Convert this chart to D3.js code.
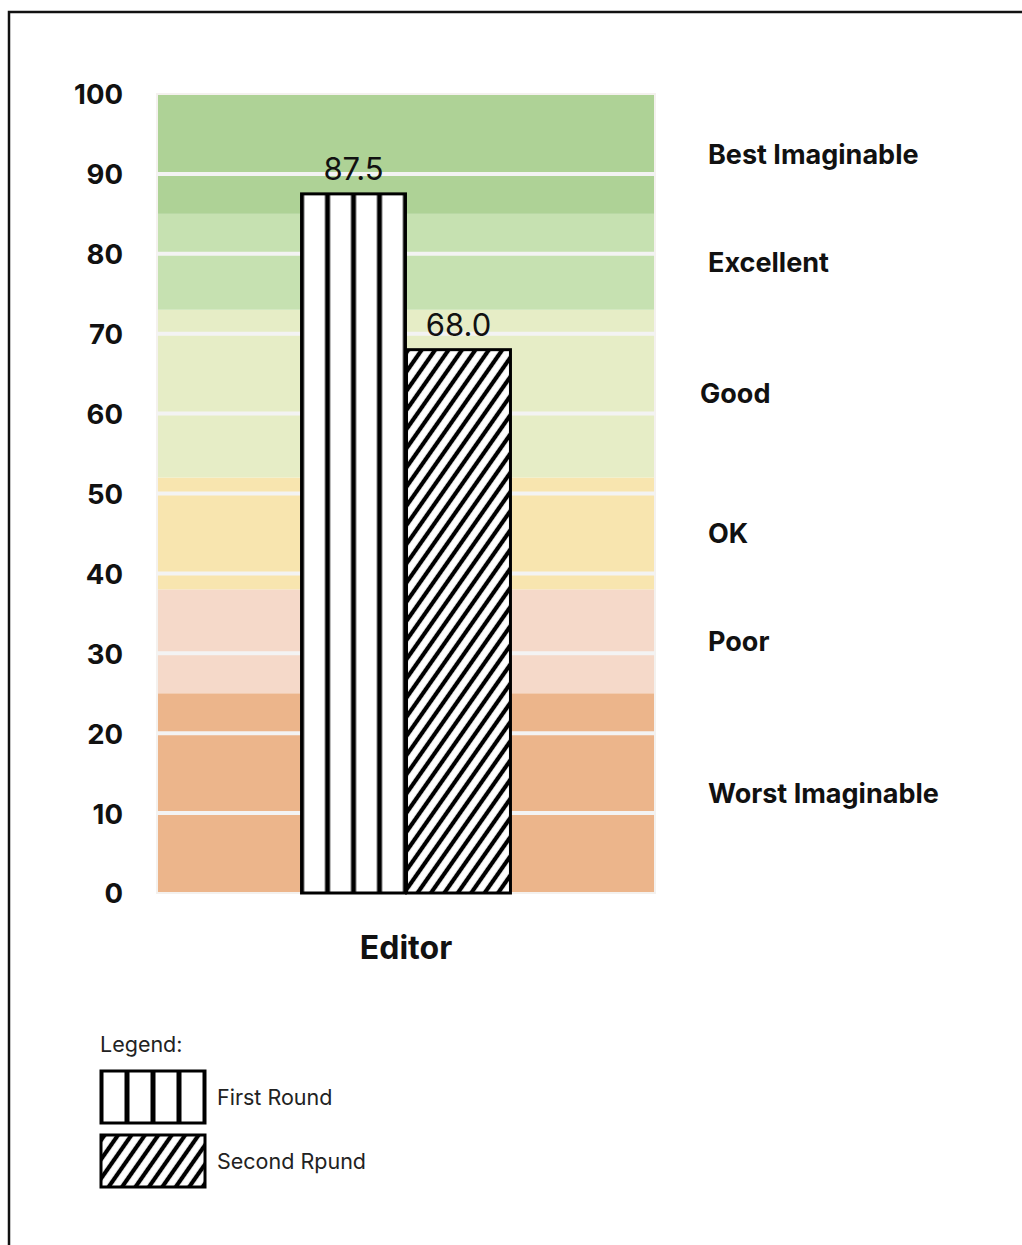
<!DOCTYPE html>
<html lang="en">
<head>
    <meta charset="UTF-8">
    <title>Editor rating</title>
    <script src="https://d3js.org/d3.v7.min.js"></script>
    <style>
        body { margin: 0; background: #fff; }
        svg { display: block; font-family: Inter, "Noto Sans", sans-serif; }
        .tick-label { font-size: 27.5px; font-weight: 700; fill: #111; }
        .zone-label { font-size: 27px; font-weight: 700; fill: #111; }
        .value-label { font-size: 31px; fill: #111; }
        .cat-label { font-size: 32px; font-weight: 700; fill: #111; }
        .legend-text { font-size: 21.5px; fill: #222; }
    </style>
</head>
<body>
<svg width="1022" height="1245"></svg>
<script>
    // data
    const categories = ["Editor"];
    const series = ["First Round", "Second Rpund"];
    const values = [87.5, 68.0];
    const zoneLimits = [0, 25, 38, 52, 73, 85, 100];
    const zoneNames = ["Worst Imaginable", "Poor", "OK", "Good", "Excellent", "Best Imaginable"];
    const yTicks = [0, 10, 20, 30, 40, 50, 60, 70, 80, 90, 100];

    const zoneColors = ["#ecb58b", "#f5d9c9", "#f8e5af", "#e6edc6", "#c6e1b1", "#aed296"];
    const fills = ["url(#vstripes)", "url(#dstripes)"];

    const width = 1022, height = 1245;
    const plot = { left: 157, right: 655, top: 94, bottom: 893 };

    const svg = d3.select("svg");

    // page frame
    svg.append("rect")
        .attr("x", 9).attr("y", 12)
        .attr("width", width).attr("height", height)
        .attr("fill", "none").attr("stroke", "#111").attr("stroke-width", 2.5);

    // patterns
    const defs = svg.append("defs");
    const vp = defs.append("pattern")
        .attr("id", "vstripes")
        .attr("patternUnits", "objectBoundingBox")
        .attr("width", 0.25).attr("height", 1);
    vp.append("rect").attr("width", 200).attr("height", 2000).attr("fill", "#fff");
    vp.selectAll("line")
        .data([0, 26])
        .join("line")
        .attr("x1", d => d).attr("x2", d => d).attr("y1", 0).attr("y2", 2000)
        .attr("stroke", "#000").attr("stroke-width", 5);

    // diagonal hatch, steeper than 45 degrees
    const dp = defs.append("pattern")
        .attr("id", "dstripes")
        .attr("patternUnits", "userSpaceOnUse")
        .attr("width", 11).attr("height", 20)
        .attr("patternTransform", "rotate(35)");
    dp.append("rect").attr("width", 11).attr("height", 20).attr("fill", "#fff");
    dp.append("line")
        .attr("x1", 3).attr("x2", 3).attr("y1", -1).attr("y2", 21)
        .attr("stroke", "#000").attr("stroke-width", 4.2);

    // scales
    const y = d3.scaleLinear().domain([0, 100]).range([plot.bottom, plot.top]);
    const x0 = d3.scaleBand().domain(categories)
        .range([plot.left, plot.right])
        .paddingInner(0).paddingOuter(0.68);
    const x1 = d3.scaleBand().domain(series)
        .range([0, x0.bandwidth()])
        .padding(0.01);

    // rating zones
    const zones = zoneNames.map((name, i) => ({ name, lo: zoneLimits[i], hi: zoneLimits[i + 1], color: zoneColors[i] }));
    svg.append("g").selectAll("rect")
        .data(zones)
        .join("rect")
        .attr("x", plot.left)
        .attr("width", plot.right - plot.left)
        .attr("y", d => y(d.hi))
        .attr("height", d => y(d.lo) - y(d.hi))
        .attr("fill", d => d.color);

    svg.append("rect")
        .attr("x", plot.left).attr("y", plot.top)
        .attr("width", plot.right - plot.left).attr("height", plot.bottom - plot.top)
        .attr("fill", "none").attr("stroke", "#f4f1ee").attr("stroke-width", 2);

    // grid
    svg.append("g").selectAll("line")
        .data(yTicks.filter(t => t > 0 && t < 100))
        .join("line")
        .attr("x1", plot.left).attr("x2", plot.right)
        .attr("y1", d => y(d)).attr("y2", d => y(d))
        .attr("stroke", "#f3f3f3").attr("stroke-width", 4);

    // y axis labels
    const yAxis = svg.append("g")
        .attr("transform", `translate(${plot.left - 34},0)`)
        .call(d3.axisLeft(y).tickValues(yTicks).tickSize(0).tickPadding(0));
    yAxis.select(".domain").remove();
    yAxis.selectAll("text")
        .attr("class", "tick-label")
        .attr("dy", "0.36em")
        .style("font-family", "Inter, sans-serif");

    // zone names on the right
    svg.append("g").selectAll("text")
        .data(zones)
        .join("text")
        .attr("class", "zone-label")
        .attr("x", d => d.name === "Good" ? 700 : 708)
        .attr("y", d => y((d.lo + d.hi) / 2))
        .attr("dy", "0.36em")
        .text(d => d.name);

    // bars
    const rows = series.map((s, i) => ({ series: s, value: values[i], fill: fills[i] }));
    const group = svg.append("g").selectAll("g")
        .data(categories)
        .join("g")
        .attr("transform", d => `translate(${x0(d)},0)`);

    group.selectAll("rect")
        .data(rows)
        .join("rect")
        .attr("x", d => x1(d.series))
        .attr("width", x1.bandwidth())
        .attr("y", d => y(d.value))
        .attr("height", d => y(0) - y(d.value))
        .attr("fill", d => d.fill)
        .attr("stroke", "#000").attr("stroke-width", 3);

    group.selectAll("text.value-label")
        .data(rows)
        .join("text")
        .attr("class", "value-label")
        .attr("x", d => x1(d.series) + x1.bandwidth() / 2)
        .attr("y", d => y(d.value) - 14)
        .attr("text-anchor", "middle")
        .text(d => d.value.toFixed(1));

    // category axis label
    const xAxis = svg.append("g")
        .attr("transform", `translate(0,${plot.bottom + 66})`)
        .call(d3.axisBottom(x0).tickSize(0).tickPadding(0));
    xAxis.select(".domain").remove();
    xAxis.selectAll("text")
        .attr("class", "cat-label")
        .attr("dy", 0)
        .style("font-family", "Inter, sans-serif");

    // legend
    const legend = svg.append("g");
    legend.append("text")
        .attr("class", "legend-text")
        .attr("x", 100).attr("y", 1052)
        .text("Legend:");

    const items = legend.selectAll("g.item")
        .data(rows)
        .join("g")
        .attr("class", "item")
        .attr("transform", (d, i) => `translate(101,${1071 + i * 64})`);
    items.append("rect")
        .attr("width", 104).attr("height", 52)
        .attr("fill", d => d.fill)
        .attr("stroke", "#000").attr("stroke-width", 3);
    items.append("text")
        .attr("class", "legend-text")
        .attr("x", 116).attr("y", 26)
        .attr("dy", "0.36em")
        .text(d => d.series);
</script>
</body>
</html>
